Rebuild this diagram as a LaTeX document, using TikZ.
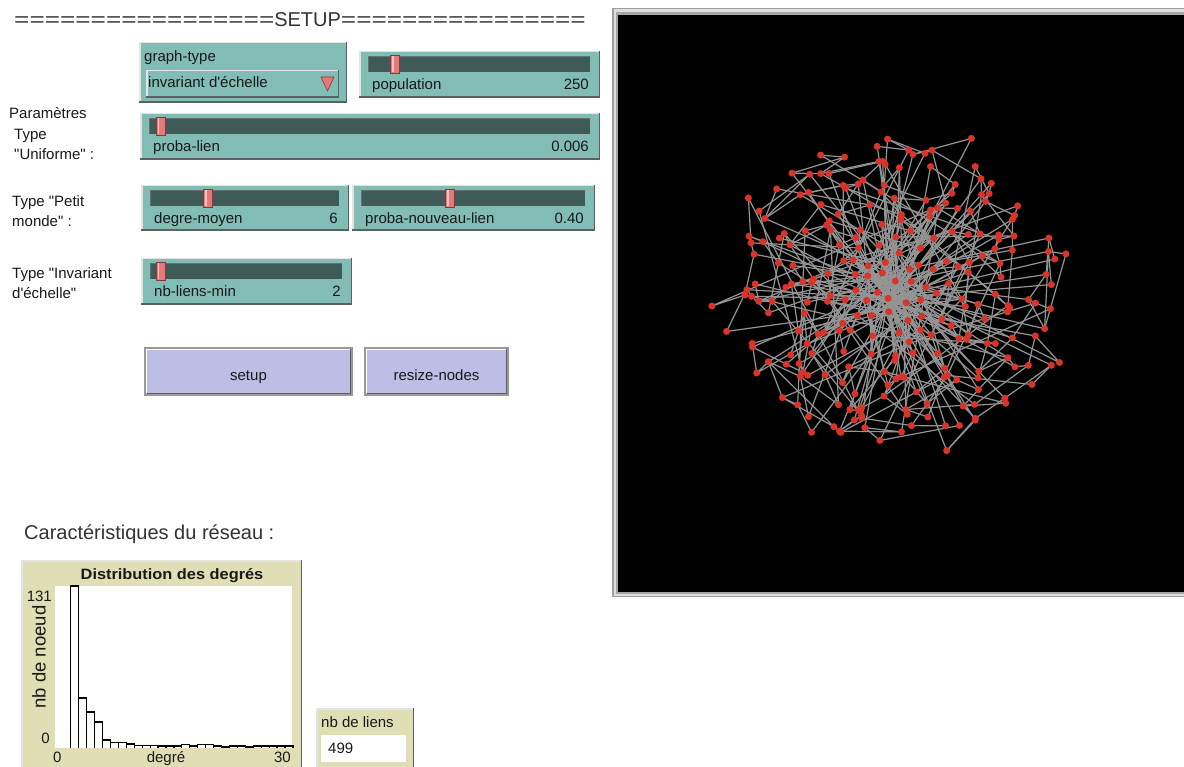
\documentclass[tikz,border=0pt]{standalone}
\usepackage{fontspec}
\setmainfont{Liberation Sans}[Ligatures=TeXOff]
\usepackage{graphicx}
\definecolor{nlteal}{RGB}{130,189,181}
\definecolor{nltrack}{RGB}{62,91,87}
\definecolor{nlthumb}{RGB}{226,122,122}
\definecolor{nlthumbd}{RGB}{140,55,55}
\definecolor{nlbtn}{RGB}{189,189,230}
\definecolor{nlplot}{RGB}{224,222,180}
\definecolor{nllink}{RGB}{148,148,148}
\definecolor{nlturtle}{RGB}{218,52,42}
\definecolor{nltext}{RGB}{25,25,25}
\definecolor{bvlight}{RGB}{228,228,228}
\definecolor{bvdark}{RGB}{95,95,95}
\newcommand{\nlraised}[5]{%
  \fill[#5] (#1,#2) rectangle (#3,#4);
  \draw[bvlight,line width=1.5pt] (#1+0.75,#4) -- (#1+0.75,#2+0.75) -- (#3,#2+0.75);
  \draw[bvdark,line width=1.5pt] (#1,#4-0.75) -- (#3-0.75,#4-0.75) -- (#3-0.75,#2);
}
\newcommand{\nlslider}[8]{%
  \nlraised{#2}{#3}{#4}{#5}{nlteal}
  \fill[nltrack] (#2+9,#3+5) rectangle (#4-10,#3+21);
  \draw[gray!60!nltrack,line width=1pt] (#2+9.5,#3+21) -- (#2+9.5,#3+5.5) -- (#4-10,#3+5.5);
  \filldraw[fill=nlthumb,draw=nlthumbd,line width=0.8pt] (#6,#3+4.5) rectangle (#6+9,#3+22.5);
  \fill[white!55!nlthumb] (#6+1.5,#3+5.5) rectangle (#6+3,#3+21.5);
  \node[txt] (#1-l) at (#2+13,#3+39) {#7};
  \node[txtr] (#1-v) at (#4-11,#3+39) {#8};
}
\newcommand{\nlbutton}[6]{%
  \fill[nlbtn] (#2,#3) rectangle (#4,#5);
  \draw[gray!80,line width=1.2pt] (#2,#3) rectangle (#4,#5);
  \draw[white,line width=1.2pt] (#2+1.5,#5-1.5) -- (#2+1.5,#3+1.5) -- (#4-1.5,#3+1.5);
  \draw[bvdark,line width=1.2pt] (#2+1.5,#5-1.5) -- (#4-1.5,#5-1.5) -- (#4-1.5,#3+1.5);
  \node[txtc] (#1) at ({(#2+#4)/2},{(#3+#5)/2+9}) {#6};
}
\begin{document}
\begin{tikzpicture}[x=1pt,y=-1pt,
  txt/.style={anchor=base west,inner sep=0pt,font=\fontsize{15}{18}\selectfont,text=nltext},
  txtr/.style={txt,anchor=base east},
  txtc/.style={txt,anchor=base},
  linkst/.style={draw=nllink,line width=1.2pt},
  barst/.style={draw=black,fill=white,line width=1.2pt}]
\useasboundingbox (0,0) rectangle (1184,767);
\fill[white] (0,0) rectangle (1184,767);

% title line
\node[anchor=base west,inner sep=0pt,font=\fontsize{20}{24}\selectfont,text=black!80] (setupline) at (14,26.5)
  {\scalebox{1.31}[1]{=================}SETUP\scalebox{1.31}[1]{================}};

% chooser
\nlraised{139}{42}{347}{103}{nlteal}
\nlraised{146}{70}{339}{98}{nlteal}
\node[txt] (gt-l) at (144,62) {graph-type};
\node[txt] (gt-v) at (148,88) {invariant d'échelle};
\filldraw[fill=nlthumb,draw=nlthumbd,line width=0.6pt] (321,77) -- (334,77) -- (327.5,91) -- cycle;

% sliders
\nlslider{pop}{359}{51}{600}{98}{390.5}{population}{250}
\nlslider{plien}{140}{113}{600}{160}{156}{proba-lien}{0.006}
\nlslider{dmoy}{141}{185}{349}{231}{203.5}{degre-moyen}{6}
\nlslider{pnl}{352}{185}{595}{231}{445.5}{proba-nouveau-lien}{0.40}
\nlslider{nbl}{141}{258}{352}{305}{156}{nb-liens-min}{2}

% left labels
\node[txt] (par) at (9,119) {Paramètres};
\node[txt] (t1a) at (14,140) {Type};
\node[txt] (t1b) at (14,160) {"Uniforme" :};
\node[txt] (t2a) at (12,207) {Type "Petit};
\node[txt] (t2b) at (12,227) {monde" :};
\node[txt] (t3a) at (12,279) {Type "Invariant};
\node[txt] (t3b) at (12,299) {d'échelle"};

% buttons
\nlbutton{bsetup}{145}{348}{352}{395}{setup}
\nlbutton{bresize}{365}{348}{508}{395}{resize-nodes}

% characteristics
\node[anchor=base west,inner sep=0pt,font=\fontsize{20}{24}\selectfont,text=black!80] (carac) at (24,539) {Caractéristiques du réseau :};

% plot
\nlraised{21}{560}{302}{772}{nlplot}
\fill[white] (55,586) rectangle (292,748);
\node[txtc,font=\fontsize{15}{18}\selectfont\bfseries] (ptitle) at (172,579) {\scalebox{1.09}[1]{Distribution des degrés}};
\node[txtr] (ymax) at (52,601) {131};
\node[txtr] (ymin) at (50,743) {0};
\node[rotate=90,inner sep=0pt,font=\fontsize{18.5}{22}\selectfont,text=nltext] (ylab) at (39,657) {nb de noeud};
\node[txt] (xmin) at (53,762) {0};
\node[txtc] (xlab) at (166,762) {degré};
\node[txtr] (xmax) at (291,762) {30};
\foreach \d/\t in {2/586,3/698,4/712,5/722,6/740,7/742.5,8/742.5,9/744,10/745.5,11/745.5,12/745.5,13/746,14/746,15/746,16/744.3,17/746,18/744.3,19/744.3,20/746,21/747,22/746,23/746,24/747,25/746,26/746,27/746,28/746,29/746}
  \draw[barst] ({55+7.93*\d},748) |- ({55+7.93*(\d+1)},\t) -- ({55+7.93*(\d+1)},748);

% monitor
\nlraised{316}{708}{414}{772}{nlplot}
\node[txt] (mlab) at (321,727) {nb de liens};
\fill[white] (321,735) rectangle (406,762);
\node[txt] (mval) at (328,753) {499};

% view
\fill[gray!75] (612,8) rectangle (1184,597);
\fill[gray!25] (613.5,9.5) rectangle (1184,595.5);
\fill[gray!70] (615.5,12.5) rectangle (1184,593.5);
\fill[black] (617.5,15) rectangle (1184,591.5);

\pgfmathsetseed{11}
\foreach \i in {1,...,250}{
  \pgfmathsetmacro{\ang}{360*(\i*0.381966-floor(\i*0.381966))+22*(rnd-0.5)}
  \pgfmathsetmacro{\rad}{pow(\i/250,0.55)*(0.84+0.16*rnd)}
  \coordinate (n\i) at ({895+184*\rad*cos(\ang)},{293+176*\rad*sin(\ang)});
}
\foreach \i in {2,...,250}{
  \pgfmathtruncatemacro{\ja}{1+int((\i-1)*pow(rnd,3))}
  \pgfmathsetmacro{\rr}{rnd}
  \pgfmathtruncatemacro{\kk}{\rr<0.4 ? 13 : (\rr<0.75 ? 21 : 34)}
  \pgfmathtruncatemacro{\jb}{\i>\kk ? \i-\kk : 1}
  \draw[linkst] (n\i) -- (n\ja) (n\i) -- (n\jb);
}
\foreach \i in {1,...,250}{
  \fill[nlturtle] (n\i) circle[radius=3.5];
}
\end{tikzpicture}
\end{document}
